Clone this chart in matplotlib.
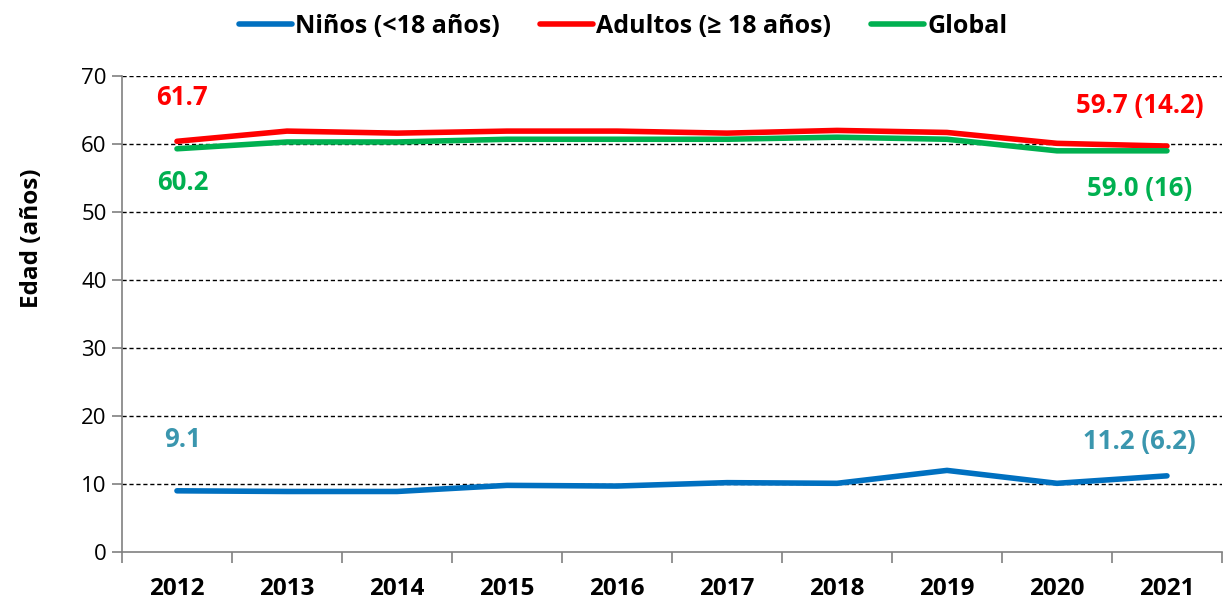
import matplotlib
matplotlib.use('Agg')
import matplotlib.pyplot as plt
import numpy as np

# Datos
anios = ['2012', '2013', '2014', '2015', '2016', '2017', '2018', '2019', '2020', '2021']
ninos = [9.0, 8.9, 8.9, 9.8, 9.7, 10.2, 10.1, 12.0, 10.1, 11.2]
adultos = [60.4, 61.9, 61.6, 61.9, 61.9, 61.6, 62.0, 61.7, 60.1, 59.7]
glob = [59.3, 60.3, 60.3, 60.7, 60.7, 60.7, 61.0, 60.7, 59.0, 59.0]

etiquetas = ['Niños (<18 años)', 'Adultos (≥ 18 años)', 'Global']
colores = ['#0070C0', '#FF0000', '#00B050']
color_txt = ['#3A96AE', '#FF0000', '#00B050']

# anotaciones: (indice x, y, texto)
notas_ini = [(0, 16.5, '9.1'), (0, 66.8, '61.7'), (0, 54.4, '60.2')]
notas_fin = [(9, 16.2, '11.2 (6.2)'), (9, 65.7, '59.7 (14.2)'), (9, 53.5, '59.0 (16)')]

plt.rcParams['font.family'] = ['Open Sans', 'DejaVu Sans']

fig = plt.figure(figsize=(12.27, 6), dpi=100)
ax = fig.add_axes([0.0994, 0.08, 0.8965, 0.7933])

x = np.arange(len(anios))
series = [ninos, adultos, glob]
for s, lab, c in zip(series, etiquetas, colores):
    ax.plot(x, s, color=c, linewidth=4, label=lab, solid_capstyle='round')

for i, (n0, n1) in enumerate(zip(notas_ini, notas_fin)):
    ax.text(n0[0] + 0.05, n0[1], n0[2], color=color_txt[i], fontsize=18.5,
            fontweight='bold', ha='center', va='center')
    ax.text(n1[0] - 0.25, n1[1], n1[2], color=color_txt[i], fontsize=18.5,
            fontweight='bold', ha='center', va='center')

ax.set_xlim(-0.5, len(anios) - 0.5)
ax.set_ylim(0, 70)
ax.set_yticks(np.arange(0, 71, 10))
ax.tick_params(axis='y', labelsize=16, length=7, color='#808080', width=1.2, pad=4)
ax.set_xticks(x)
ax.set_xticklabels(anios, fontsize=17.5, fontweight='bold')
ax.tick_params(axis='x', which='major', length=0, pad=18)
ax.set_xticks(np.arange(-0.5, len(anios), 1), minor=True)
ax.tick_params(axis='x', which='minor', length=8, color='#808080', width=1.2)

for v in range(10, 71, 10):
    ax.axhline(v, color='black', linestyle=(0, (3, 2)), linewidth=1.0, zorder=0)

for sp in ['top', 'right']:
    ax.spines[sp].set_visible(False)
for sp in ['left', 'bottom']:
    ax.spines[sp].set_color('#808080')
    ax.spines[sp].set_linewidth(1.2)

ax.set_ylabel('Edad (años)', fontsize=17.5, fontweight='bold')
ax.yaxis.set_label_coords(-0.071, 0.66)

fig.legend(loc='upper center', bbox_to_anchor=(0.508, 1.015), ncol=3, frameon=False,
           prop={'size': 18, 'weight': 'bold'}, handlelength=2.1, handletextpad=0.15,
           columnspacing=1.6)

fig.savefig('out.png', dpi=100)
